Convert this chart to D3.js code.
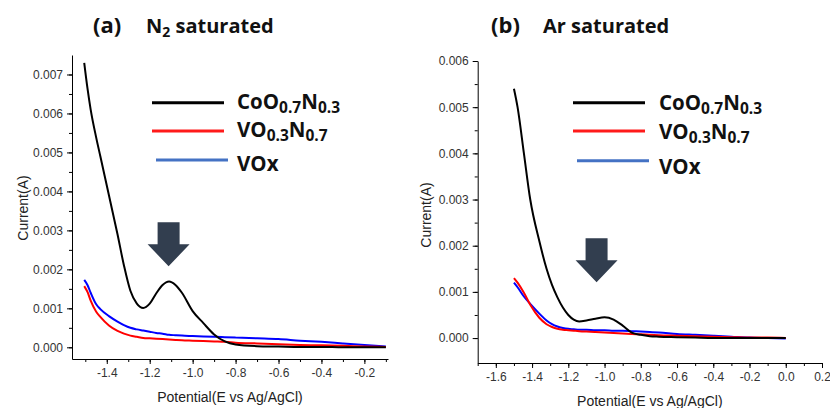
<!DOCTYPE html>
<meta charset="utf-8">
<style>
body { margin: 0; background: #fff; }
.tick text { font-family: "Liberation Sans", Arial, sans-serif; font-size: 12px; fill: #333; }
.domain, .tick line { stroke: #000; stroke-width: 1px; }
.axis-title { font-family: "Liberation Sans", Arial, sans-serif; font-size: 14px; fill: #222; }
.panel-title { font-family: "Open Sans", sans-serif; font-weight: bold; font-size: 20px; fill: #111; }
.legend-text { font-family: "Open Sans", sans-serif; font-weight: bold; font-size: 20.5px; fill: #111; }
.line { fill: none; stroke-width: 2px; }
</style>
<body>
<script src="https://cdn.jsdelivr.net/npm/d3@7"></script>
<script>

// ---- data ----
// panel (a) N2 saturated
var potentialA = [-1.505, -1.49, -1.475, -1.45, -1.43, -1.39, -1.35, -1.32, -1.29, -1.26, -1.23, -1.2, -1.17, -1.14,
                  -1.11, -1.08, -1.05, -1.0, -0.95, -0.9, -0.85, -0.8, -0.7, -0.6, -0.5, -0.4, -0.3, -0.2, -0.1];
var cooA = [0.0073, 0.00665, 0.0061, 0.0054, 0.0049, 0.0039, 0.0029, 0.0021, 0.00145, 0.00112, 0.00101, 0.00112, 0.00138, 0.00160,
            0.00169, 0.00160, 0.00140, 0.00093, 0.00062, 0.00033, 0.00015, 0.00007, 0.00003, 0.00002, 0.00001, 0.00001, 0, 0, 0];
var vonA = [0.00157, 0.00142, 0.0012, 0.00092, 0.00078, 0.00056, 0.00042, 0.00035, 0.0003, 0.00027, 0.00024, 0.00023, 0.00022, 0.00021,
            0.0002, 0.00019, 0.00018, 0.00017, 0.00016, 0.00015, 0.00014, 0.00012, 0.0001, 0.00008, 0.00006, 0.00005, 0.00004, 0.00002, 0.00001];
var voxA = [0.00173, 0.0016, 0.0014, 0.00111, 0.00098, 0.0008, 0.00066, 0.00057, 0.0005, 0.00046, 0.00043, 0.0004, 0.00037, 0.00035,
            0.00032, 0.00031, 0.0003, 0.00029, 0.00028, 0.00027, 0.00026, 0.00025, 0.00023, 0.00021, 0.00017, 0.00014, 0.0001, 0.00006, 0.00002];

// panel (b) Ar saturated
var potentialB = [-1.5, -1.48, -1.445, -1.41, -1.36, -1.32, -1.29, -1.26, -1.23, -1.2, -1.17, -1.14, -1.1, -1.05,
                  -1.0, -0.95, -0.9, -0.85, -0.8, -0.75, -0.7, -0.6, -0.5, -0.4, -0.3, -0.2, -0.1, 0.0];
var cooB = [0.0054, 0.0050, 0.0040, 0.0030, 0.0021, 0.0015, 0.00115, 0.00088, 0.00066, 0.0005, 0.0004, 0.00036, 0.00038, 0.00042,
            0.00045, 0.0004, 0.00027, 0.00012, 0.00007, 0.00004, 0.00003, 0.00002, 0.00001, 0, 0, 0, 0, 0];
var vonB = [0.0013, 0.0012, 0.00098, 0.00072, 0.00044, 0.0003, 0.00024, 0.0002, 0.00018, 0.00017, 0.00016, 0.00015, 0.00014, 0.00013,
            0.00012, 0.00011, 0.0001, 0.00009, 0.00008, 0.00007, 0.00006, 0.00005, 0.00004, 0.00003, 0.00002, 0.00001, 0.00001, 0];
var voxB = [0.0012, 0.0011, 0.0009, 0.00074, 0.00053, 0.00038, 0.0003, 0.00025, 0.00022, 0.0002, 0.00019, 0.00018, 0.00018, 0.00017,
            0.00017, 0.00016, 0.00016, 0.00015, 0.00014, 0.00013, 0.00012, 0.00009, 0.00007, 0.00005, 0.00003, 0.00001, 0, -0.00001];

// tick labels
var xTicksA = [-1.4, -1.2, -1.0, -0.8, -0.6, -0.4, -0.2];
var yTicksA = [0, 0.001, 0.002, 0.003, 0.004, 0.005, 0.006, 0.007];
var xTicksB = [-1.6, -1.4, -1.2, -1.0, -0.8, -0.6, -0.4, -0.2, 0.0, 0.2];
var yTicksB = [0, 0.001, 0.002, 0.003, 0.004, 0.005, 0.006];

// legend entries: text pieces, "sub" marks a subscript
var seriesNames = [
  [["CoO", ""], ["0.7", "sub"], ["N", ""], ["0.3", "sub"]],
  [["VO", ""], ["0.3", "sub"], ["N", ""], ["0.7", "sub"]],
  [["VOx", ""]]
];
var seriesColors = ["#000000", "#ff0000", "#0000ff"];
var legendColors = ["#000000", "#ff1a1a", "#4472c4"];

var svg = d3.select("body").append("svg")
    .attr("width", 830)
    .attr("height", 408);

function drawPanel(p) {
  var x = d3.scaleLinear().domain(p.xDomain).range(p.xRange);
  var y = d3.scaleLinear().domain(p.yDomain).range(p.yRange);

  // minor ticks first (no labels)
  svg.append("g")
      .attr("transform", "translate(0," + p.yRange[0] + ")")
      .call(d3.axisBottom(x).tickValues(p.xMinor).tickSize(3).tickFormat(""))
      .select(".domain").remove();
  svg.append("g")
      .attr("transform", "translate(" + p.xRange[0] + ",0)")
      .call(d3.axisLeft(y).tickValues(p.yMinor).tickSize(3).tickFormat(""))
      .select(".domain").remove();

  // major axes
  svg.append("g")
      .attr("transform", "translate(0," + p.yRange[0] + ")")
      .call(d3.axisBottom(x).tickValues(p.xTicks).tickSize(5).tickSizeOuter(0).tickPadding(4)
        .tickFormat(function(d) { return d.toFixed(1); }));
  svg.append("g")
      .attr("transform", "translate(" + p.xRange[0] + ",0)")
      .call(d3.axisLeft(y).tickValues(p.yTicks).tickSize(5).tickSizeOuter(0).tickPadding(4)
        .tickFormat(function(d) { return d.toFixed(3); }));

  // axis titles
  svg.append("text")
      .attr("class", "axis-title")
      .attr("x", (p.xRange[0] + p.xRange[1]) / 2)
      .attr("y", p.xTitleY)
      .attr("text-anchor", "middle")
      .text("Potential(E vs Ag/AgCl)");
  svg.append("text")
      .attr("class", "axis-title")
      .attr("transform", "translate(" + p.yTitleX + "," + p.yTitleY + ") rotate(-90)")
      .attr("text-anchor", "middle")
      .text("Current(A)");

  // curves: blue, red, then black on top
  var line = d3.line()
      .x(function(d) { return x(d[0]); })
      .y(function(d) { return y(d[1]); })
      .curve(d3.curveMonotoneX);
  [2, 1, 0].forEach(function(i) {
    var pts = p.potential.map(function(v, k) { return [v, p.series[i][k]]; });
    svg.append("path")
        .datum(pts)
        .attr("class", "line")
        .style("stroke", seriesColors[i])
        .attr("d", line);
  });

  // arrow annotation, tip anchored in data space
  var tx = x(p.arrow[0]), ty = y(p.arrow[1]);
  var arrowPath = d3.path();
  arrowPath.moveTo(tx, ty);
  arrowPath.lineTo(tx - 21, ty - 22);
  arrowPath.lineTo(tx - 11, ty - 22);
  arrowPath.lineTo(tx - 11, ty - 44);
  arrowPath.lineTo(tx + 11, ty - 44);
  arrowPath.lineTo(tx + 11, ty - 22);
  arrowPath.lineTo(tx + 21, ty - 22);
  arrowPath.closePath();
  svg.append("path")
      .attr("d", arrowPath.toString())
      .attr("fill", "#323e4f");

  // title
  svg.append("text").attr("class", "panel-title")
      .attr("x", p.titleX).attr("y", 33)
      .style("font-size", "22px")
      .text(p.label);
  var t2 = svg.append("text").attr("class", "panel-title").attr("x", p.titleX2).attr("y", 33);
  p.title.forEach(function(part) {
    var s = t2.append("tspan").text(part[0]);
    if (part[1] == "sub") s.attr("font-size", "14px").attr("dy", 4);
    else if (part[1] == "after") s.attr("dy", -4);
  });

  // legend
  seriesNames.forEach(function(name, i) {
    svg.append("line")
        .attr("x1", p.legendX + (i == 2 ? 4 : 0))
        .attr("x2", p.legendX + 72 + (i == 2 ? 4 : 0))
        .attr("y1", p.legendY[i])
        .attr("y2", p.legendY[i])
        .attr("stroke", legendColors[i])
        .attr("stroke-width", 3);
    var txt = svg.append("text")
        .attr("class", "legend-text")
        .attr("x", p.legendTextX)
        .attr("y", p.legendTextY[i]);
    var prevSub = false;
    name.forEach(function(part) {
      var s = txt.append("tspan").text(part[0]);
      if (part[1] == "sub") { s.attr("font-size", "15.5px").attr("dy", prevSub ? 0 : 4); prevSub = true; }
      else { if (prevSub) s.attr("dy", -4); prevSub = false; }
    });
  });
}

drawPanel({
  potential: potentialA,
  series: [cooA, vonA, voxA],
  xDomain: [-1.562, -0.09], xRange: [72, 388],
  yDomain: [-0.0003, 0.0075], yRange: [359, 55],
  xTicks: xTicksA, yTicks: yTicksA,
  xMinor: d3.range(-15, 0).map(function(d) { return d / 10; }),
  yMinor: d3.range(0, 15).map(function(d) { return d / 2000; }),
  xTitleY: 402, yTitleX: 28, yTitleY: 208,
  arrow: [-1.112, 0.00208],
  label: "(a)", titleX: 93, titleX2: 146,
  title: [["N", ""], ["2", "sub"], [" saturated", "after"]],
  legendX: 152, legendY: [102.7, 131, 160],
  legendTextX: 237, legendTextY: [109, 137, 170.5]
});

drawPanel({
  potential: potentialB,
  series: [cooB, vonB, voxB],
  xDomain: [-1.7, 0.2], xRange: [477.7, 822],
  yDomain: [-0.00054, 0.006], yRange: [363, 61],
  xTicks: xTicksB, yTicks: yTicksB,
  xMinor: d3.range(-17, 3).map(function(d) { return d / 10; }),
  yMinor: d3.range(0, 13).map(function(d) { return d / 2000; }),
  xTitleY: 406, yTitleX: 431, yTitleY: 215,
  arrow: [-1.044, 0.00121],
  label: "(b)", titleX: 491, titleX2: 543,
  title: [["Ar saturated", ""]],
  legendX: 573, legendY: [102.7, 131, 160.7],
  legendTextX: 659, legendTextY: [110, 139, 174]
});

</script>
</body>
